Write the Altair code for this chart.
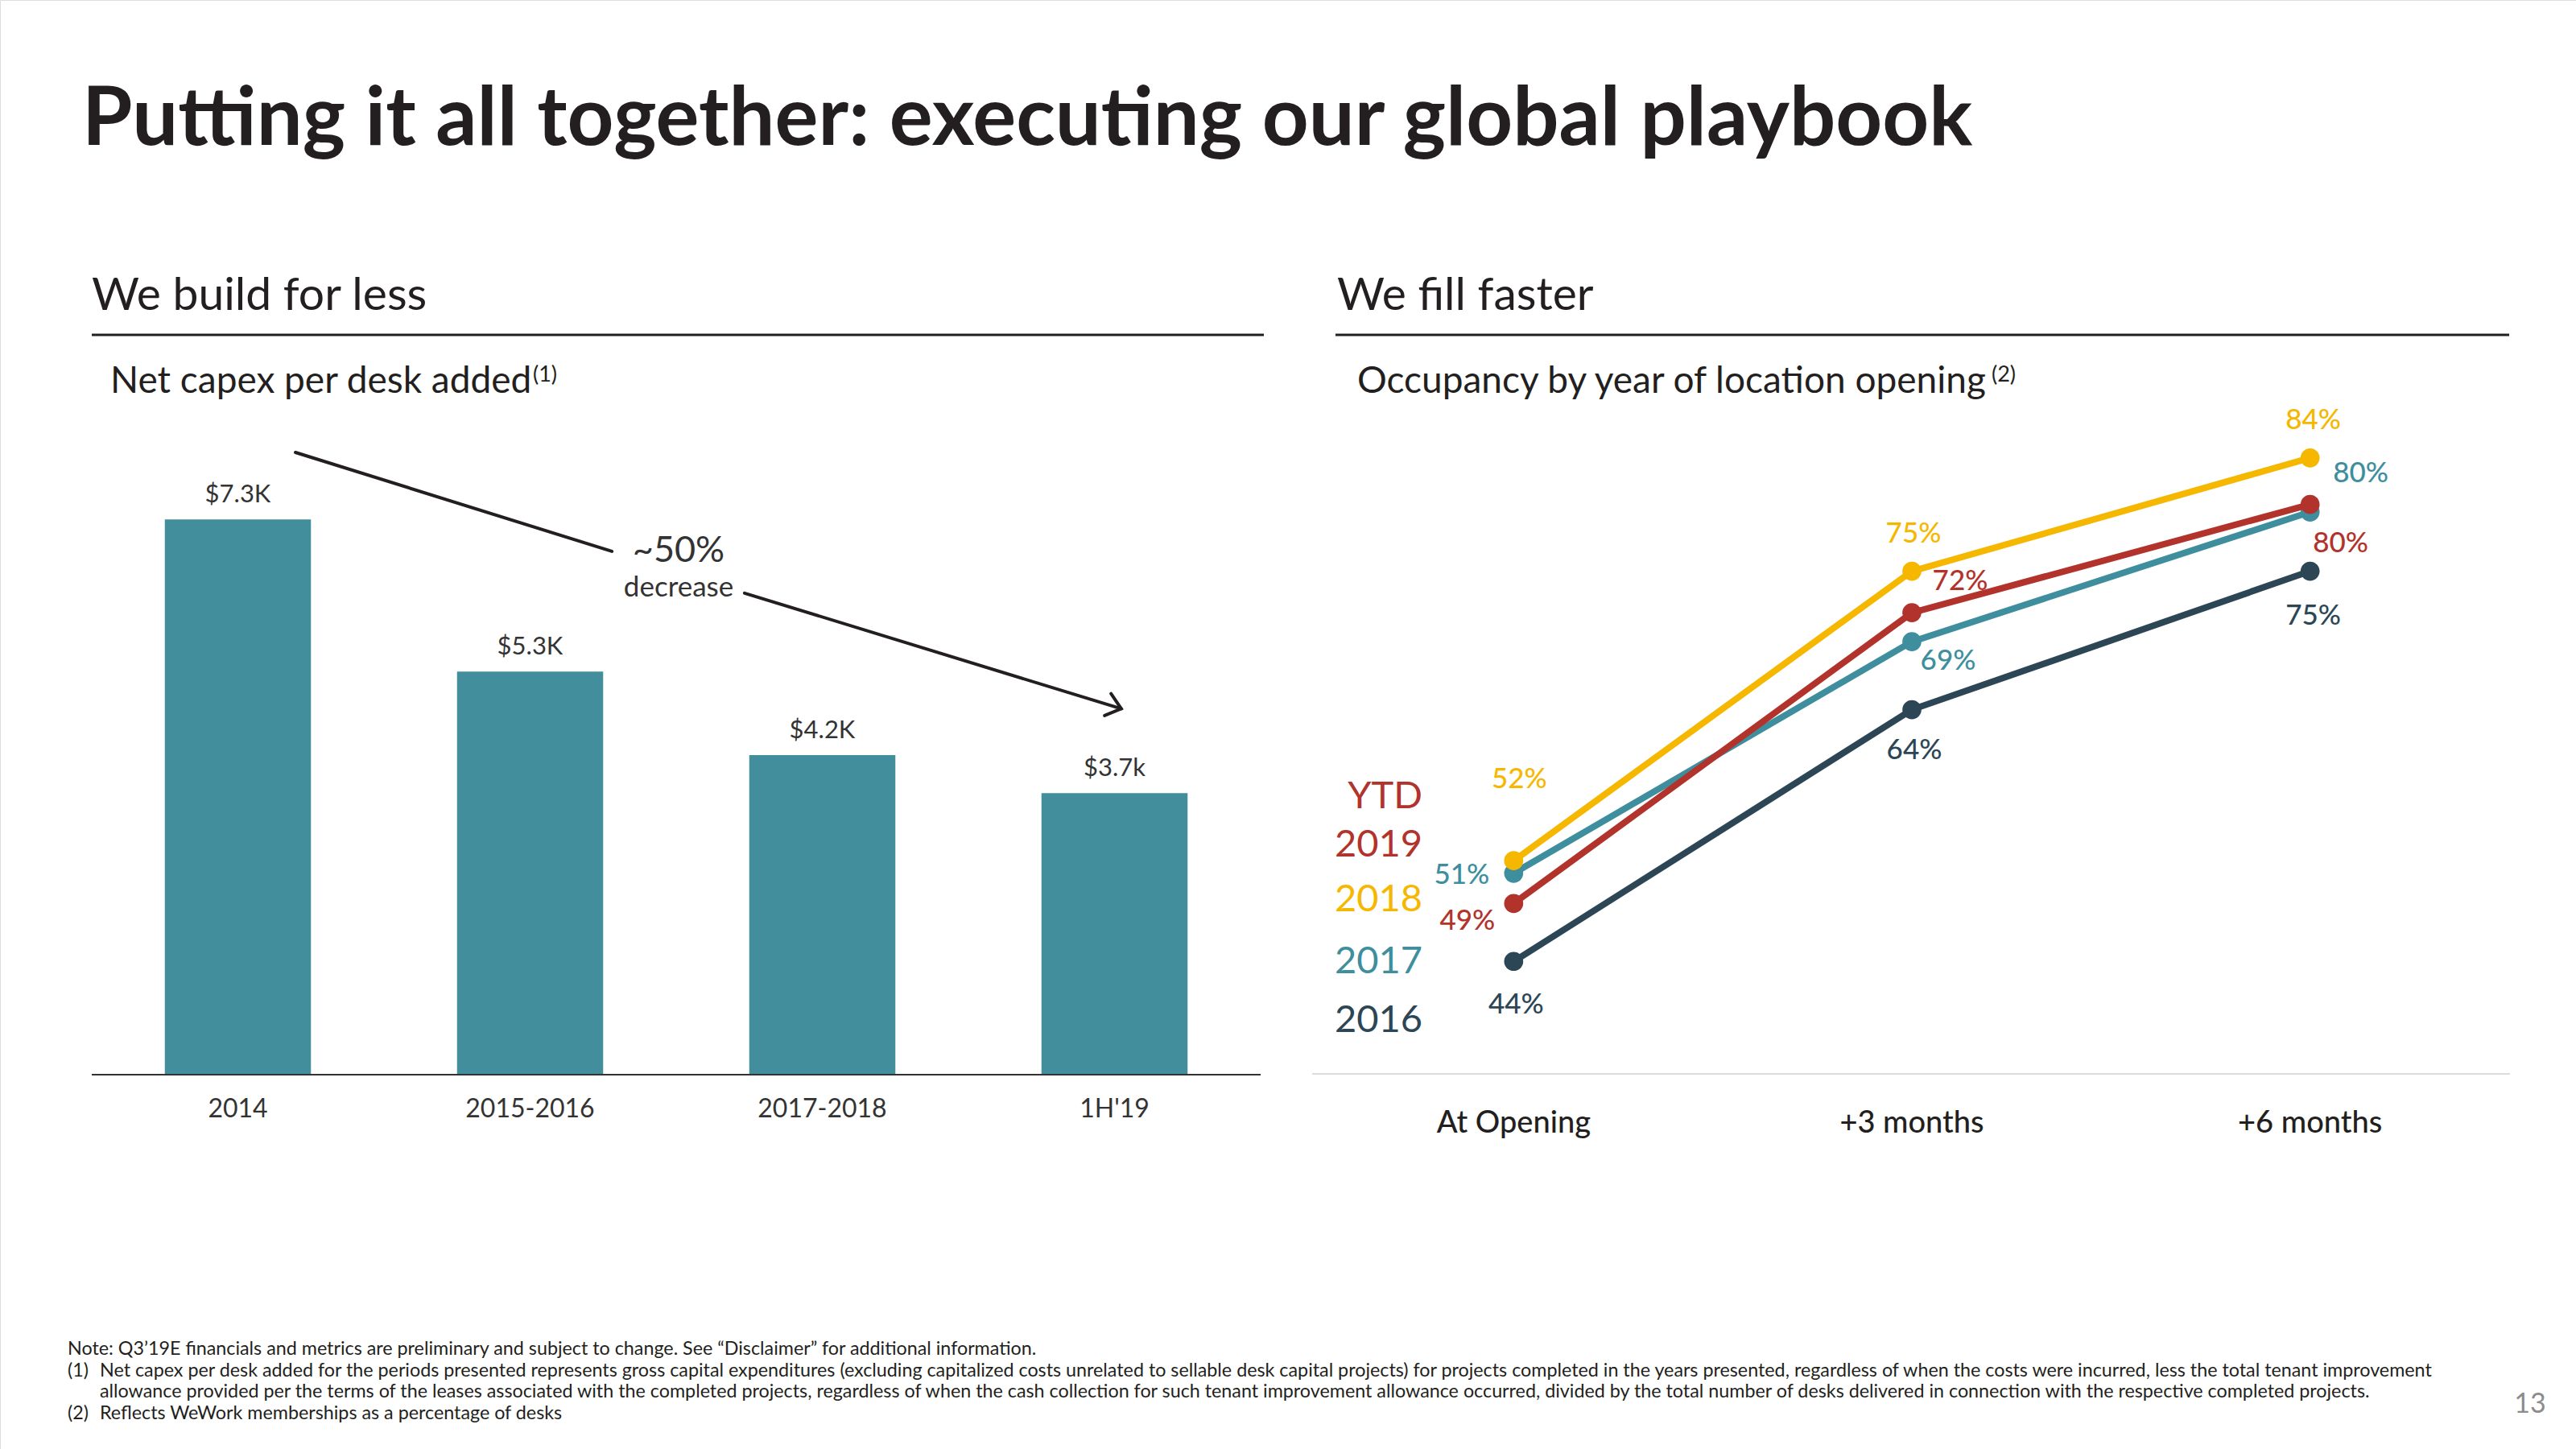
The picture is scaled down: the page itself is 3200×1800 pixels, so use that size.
import altair as alt
import pandas as pd

# ---------------- data ----------------
bar_periods = ["2014", "2015-2016", "2017-2018", "1H'19"]
capex_k = [7.3, 5.3, 4.2, 3.7]
capex_labels = ["$7.3K", "$5.3K", "$4.2K", "$3.7k"]

occ_periods = ["At Opening", "+3 months", "+6 months"]
occ_2016 = [44, 64, 75]
occ_2017 = [51, 69.4, 79.7]
occ_2019 = [48.6, 71.7, 80.3]
occ_2018 = [52, 75, 84]
occ_text_2016 = ["44%", "64%", "75%"]
occ_text_2017 = ["51%", "69%", "80%"]
occ_text_2019 = ["49%", "72%", "80%"]
occ_text_2018 = ["52%", "75%", "84%"]

legend_labels = ["YTD", "2019", "2018", "2017", "2016"]

# "~50% decrease" arrow, in bar-chart data units (x: band index, y: $K)
arrow_part = ["a", "a", "b", "b", "head", "head", "head"]
arrow_x = [0.697, 1.780, 2.234, 3.523, 3.488, 3.523, 3.466]
arrow_y = [8.18, 6.88, 6.33, 4.81, 5.01, 4.81, 4.72]

footnotes = [
    "Note: Q3\u201919E financials and metrics are preliminary and subject to change. See \u201cDisclaimer\u201d for additional information.",
    "Net capex per desk added for the periods presented represents gross capital expenditures (excluding capitalized costs unrelated to sellable desk capital projects) for projects completed in the years presented, regardless of when the costs were incurred, less the total tenant improvement",
    "allowance provided per the terms of the leases associated with the completed projects, regardless of when the cash collection for such tenant improvement allowance occurred, divided by the total number of desks delivered in connection with the respective completed projects.",
    "Reflects WeWork memberships as a percentage of desks",
]

# ---------------- styles ----------------
FONT = "Lato"
INK = "#231f20"
BAR_COLOR = "#428e9c"
COLORS = {"2016": "#2c4656", "2017": "#3e8e9e", "2019": "#b2332c", "2018": "#f5b700"}
LEGEND_COLORS = {"YTD": "#b2332c", "2019": "#b2332c", "2018": "#f5b700",
                 "2017": "#3e8e9e", "2016": "#2c4656"}

layers = []


def txt(text, x, y, size, color=INK, weight="normal", align="left", baseline="alphabetic"):
    return alt.Chart(pd.DataFrame({"t": [text]})).mark_text(
        align=align, baseline=baseline, fontSize=size, font=FONT,
        fontWeight=weight, color=color
    ).encode(x=alt.value(x), y=alt.value(y), text="t:N")


def hline(x1, x2, y, color, width):
    return alt.Chart(pd.DataFrame({"a": [0]})).mark_rule(
        color=color, strokeWidth=width
    ).encode(x=alt.value(x1), x2=alt.value(x2), y=alt.value(y))


# ---------------- headings ----------------
layers.append(txt("Putting it all together: executing our global playbook", 102, 180, 101, weight="bold"))
layers.append(txt("We build for less", 114, 385, 57))
layers.append(txt("We fill faster", 1661, 385, 57))
layers.append(hline(114, 1570, 416, INK, 3))
layers.append(hline(1659, 3117, 416, INK, 3))
layers.append(txt("Net capex per desk added", 137, 488, 46))
layers.append(txt("(1)", 662, 474, 27))
layers.append(txt("Occupancy by year of location opening", 1686, 488, 46))
layers.append(txt("(2)", 2474, 474, 27))

# ---------------- left: bar chart ----------------
bar_df = pd.DataFrame({"period": bar_periods, "capex": capex_k, "label": capex_labels})
x_bar = alt.X("period:N", sort=bar_periods, axis=None,
              scale=alt.Scale(domain=bar_periods, range=[114, 1566],
                              paddingInner=0.5, paddingOuter=0.25))
y_bar = alt.Y("capex:Q", axis=None, scale=alt.Scale(domain=[0, 10], range=[1335, 390]))

layers.append(alt.Chart(bar_df).mark_bar(color=BAR_COLOR).encode(x=x_bar, y=y_bar))
layers.append(alt.Chart(bar_df).mark_text(
    dy=-30, baseline="middle", fontSize=31, font=FONT, color="#333333"
).encode(x=x_bar, y=y_bar, text="label:N"))
layers.append(hline(114, 1566, 1335, "#333333", 2))
layers.append(alt.Chart(bar_df).mark_text(
    baseline="middle", fontSize=32, font=FONT, color="#333333"
).encode(x=x_bar, y=alt.value(1378), text="period:N"))

arrow_df = pd.DataFrame({"part": arrow_part, "ax": arrow_x, "ay": arrow_y,
                         "ord": list(range(len(arrow_x)))})
layers.append(alt.Chart(arrow_df).mark_line(
    color="#231f20", strokeWidth=4, strokeCap="round", strokeJoin="miter"
).encode(
    x=alt.X("ax:Q", axis=None, scale=alt.Scale(domain=[0, 4], range=[114, 1566])),
    y=alt.Y("ay:Q", axis=None, scale=alt.Scale(domain=[0, 10], range=[1335, 390])),
    detail="part:N", order="ord:Q"))
layers.append(txt("~50%", 843, 698, 45, color="#333333", align="center"))
layers.append(txt("decrease", 843, 741, 35, color="#333333", align="center"))

# ---------------- right: line chart ----------------
rows = []
for s, vals, texts in [("2016", occ_2016, occ_text_2016), ("2017", occ_2017, occ_text_2017),
                       ("2019", occ_2019, occ_text_2019), ("2018", occ_2018, occ_text_2018)]:
    for i, (p, v, t) in enumerate(zip(occ_periods, vals, texts)):
        rows.append({"series": s, "period": p, "idx": i, "value": v, "label": t})
occ_df = pd.DataFrame(rows)

x_occ = alt.X("period:N", sort=occ_periods, axis=None,
              scale=alt.Scale(domain=occ_periods, range=[1633, 3117], padding=0.5, type="point"))
y_occ = alt.Y("value:Q", axis=None, scale=alt.Scale(domain=[35, 90], range=[1335, 475]))

layers.append(hline(1630, 3118, 1334, "#dcdcdc", 2))

for s in ["2016", "2017", "2019", "2018"]:
    base = alt.Chart(occ_df).transform_filter(alt.datum.series == s)
    layers.append(base.mark_line(color=COLORS[s], strokeWidth=8).encode(
        x=x_occ, y=y_occ, order="idx:Q"))
    layers.append(base.mark_circle(color=COLORS[s], size=560, opacity=1).encode(
        x=x_occ, y=y_occ))

# label placement: (series, point index, dx, dy, align)
label_layout = [
    ("2018", 0, 7, -101, "center"), ("2018", 1, 2, -47, "center"), ("2018", 2, 4, -47, "center"),
    ("2017", 0, -30, 2, "right"), ("2017", 1, 45, 24, "center"), ("2017", 2, 63, -48, "center"),
    ("2019", 0, -23, 22, "right"), ("2019", 1, 60, -39, "center"), ("2019", 2, 38, 48, "center"),
    ("2016", 0, 3, 54, "center"), ("2016", 1, 3, 50, "center"), ("2016", 2, 4, 55, "center"),
]
for s, i, dx, dy, al in label_layout:
    layers.append(alt.Chart(occ_df).transform_filter(
        (alt.datum.series == s) & (alt.datum.idx == i)
    ).mark_text(
        dx=dx, dy=dy, align=al, baseline="middle", fontSize=35, font=FONT,
        fontWeight=500, color=COLORS[s]
    ).encode(x=x_occ, y=y_occ, text="label:N"))

for lab, yy in zip(legend_labels, [990, 1050, 1118, 1195, 1268]):
    layers.append(txt(lab, 1767, yy, 47, color=LEGEND_COLORS[lab], align="right", baseline="middle"))

layers.append(alt.Chart(pd.DataFrame({"period": occ_periods})).mark_text(
    baseline="middle", fontSize=38, font=FONT, fontWeight=500, color=INK
).encode(x=x_occ, y=alt.value(1396), text="period:N"))

# ---------------- footnotes ----------------
fn_y = [1676, 1703, 1729, 1756]
FN = 23.3
layers.append(txt(footnotes[0], 84, fn_y[0], FN, baseline="middle"))
layers.append(txt("(1)", 84, fn_y[1], FN, baseline="middle"))
layers.append(txt(footnotes[1], 124, fn_y[1], FN, baseline="middle"))
layers.append(txt(footnotes[2], 124, fn_y[2], FN, baseline="middle"))
layers.append(txt("(2)", 84, fn_y[3], FN, baseline="middle"))
layers.append(txt(footnotes[3], 124, fn_y[3], FN, baseline="middle"))
layers.append(txt("13", 3143, 1745, 34, color="#8c8c8c", align="center", baseline="middle"))

chart = alt.layer(*layers).resolve_scale(
    x="independent", y="independent"
).properties(
    width=3200, height=1800, padding=0,
    autosize=alt.AutoSizeParams(type="none"),
).configure_view(stroke=None).configure(background="white")

chart.save("out.html", embed_options={"renderer": "svg", "actions": False})
